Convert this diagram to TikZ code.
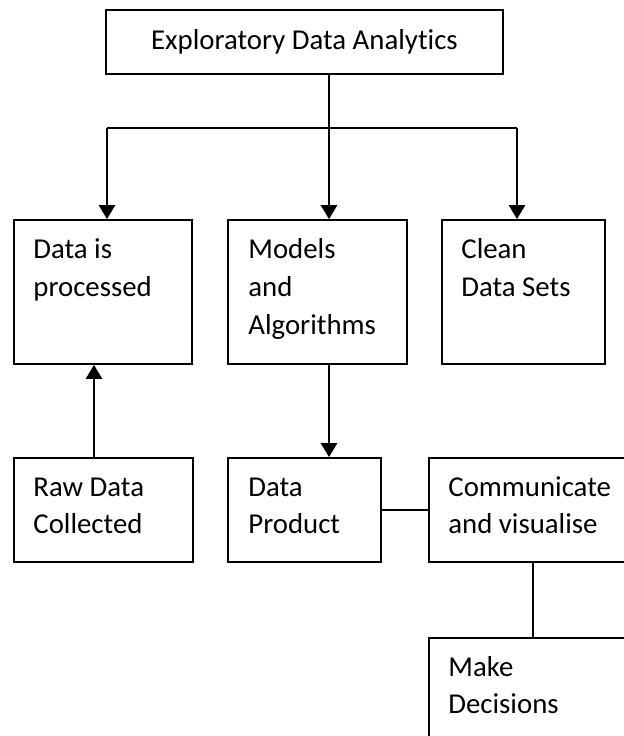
\documentclass[tikz,border=0pt]{standalone}
\usepackage{fontspec}
\setmainfont{Carlito}[Ligatures=NoCommon]
\usetikzlibrary{arrows.meta}

\begin{document}
\begin{tikzpicture}[
    x=0.75pt, y=-0.75pt,
    font=\fontsize{21.6}{28.3}\selectfont,
    box/.style={draw, line width=1.3pt, inner sep=0pt},
    txt/.style={anchor=base west, align=left, inner sep=0pt},
    arr/.style={-{Triangle[length=10.5pt, width=12pt]}, line width=2pt},
    link/.style={line width=1.3pt}
]
\useasboundingbox (0,0) rectangle (624,736);
\clip (0,0) rectangle (624,736);

% top box
\node[box, minimum width=297.75pt, minimum height=48pt] (eda) at (304.5,42) {Exploratory Data Analytics};

% second row (text sits on the baseline of its last line)
\node[box, minimum width=133.5pt, minimum height=108pt] (proc) at (103,292) {};
\node[box, minimum width=134.25pt, minimum height=108pt] (models) at (317.5,292) {};
\node[box, minimum width=122.25pt, minimum height=108pt] (clean) at (523.5,292) {};
\node[txt] (proc-t) at ([shift={(20,77.2)}]proc.north west) {Data is\\processed};
\node[txt] (models-t) at ([shift={(21,115)}]models.north west) {Models\\and\\Algorithms};
\node[txt] (clean-t) at ([shift={(20,77.2)}]clean.north west) {Clean\\Data Sets};

% third row
\node[box, minimum width=134.25pt, minimum height=78pt] (raw) at (103.5,510) {};
\node[box, minimum width=114.75pt, minimum height=78pt] (product) at (304.5,510) {};
\node[box, minimum width=156pt, minimum height=78pt] (comm) at (533,510) {};
\node[txt] (raw-t) at ([shift={(20,76.7)}]raw.north west) {Raw Data\\Collected};
\node[txt] (product-t) at ([shift={(21,76.7)}]product.north west) {Data\\Product};
\node[txt] (comm-t) at ([shift={(20,76.7)}]comm.north west) {Communicate\\and visualise};

% last box, runs off the page
\node[box, minimum width=156pt, minimum height=91.5pt] (decide) at (533,699) {};
\node[txt] (decide-t) at ([shift={(20,76.7)}]decide.north west) {Make\\Decisions};

% branch lines
\coordinate (split) at (329,128);
\coordinate (bl) at (107,128);
\coordinate (br) at (517,128);
\coordinate (upx) at (94,0);

\draw[arr] (eda.south -| split) -- (models.north -| split);
\draw[link] (bl) -- (br);
\draw[arr] (bl) -- (bl |- proc.north);
\draw[arr] (br) -- (br |- clean.north);

\draw[arr] (raw.north -| upx) -- (proc.south -| upx);
\draw[arr] (models.south -| split) -- (product.north -| split);
\draw[link] (product.east) -- (comm.west);
\draw[link] (comm.south) -- (decide.north);

\end{tikzpicture}
\end{document}
